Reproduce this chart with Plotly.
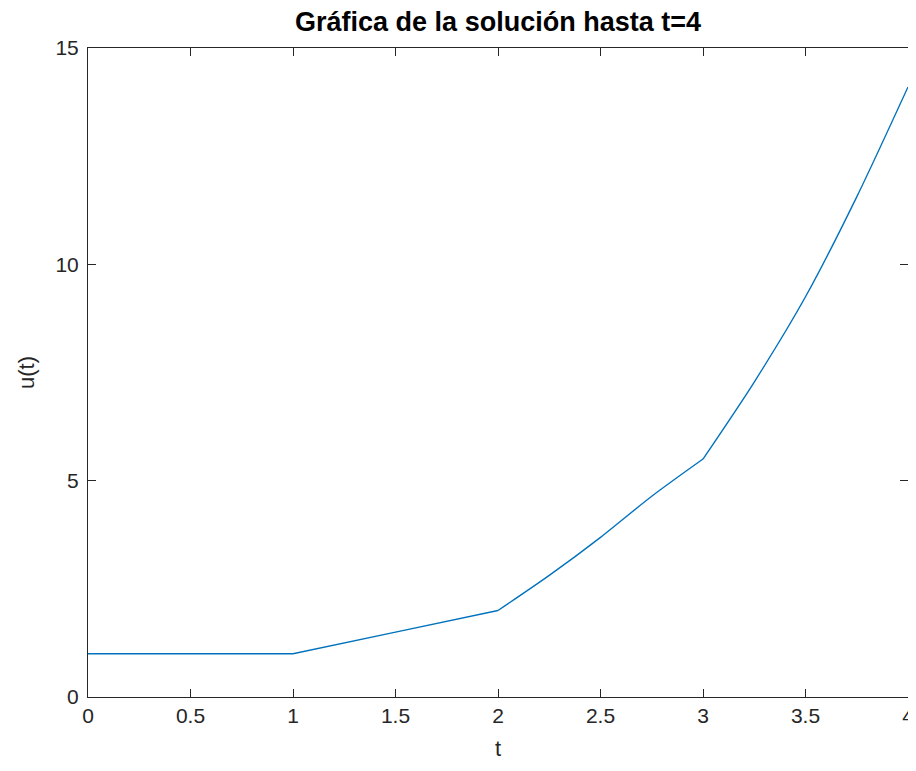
import plotly.graph_objects as go

# Values
t = [0, 0.5, 1.0, 1.5, 2.0, 2.25, 2.5, 2.75, 3.0, 3.25, 3.5, 3.75, 4.0]
u = [1.0, 1.0, 1.0, 1.5, 2.0, 2.81, 3.69, 4.64, 5.5, 7.28, 9.25, 11.56, 14.1]

x_ticks = [0, 0.5, 1, 1.5, 2, 2.5, 3, 3.5, 4]
x_tick_text = ["0", "0.5", "1", "1.5", "2", "2.5", "3", "3.5", "4"]
y_ticks = [0, 5, 10, 15]
y_tick_text = ["0", "5", "10", "15"]

AX = "#262626"
FONT = "Liberation Sans, Arial, sans-serif"
LINE = dict(color="#0072BD", width=1.4)

# page body adds an 8px margin; size the figure so the page does not scroll
W, H = 908, 755

fig = go.Figure()
# piecewise: straight on [0,2], smooth within [2,3] and [3,4] (kinks at 1, 2, 3)
segments = [(0, 5, "linear"), (4, 9, "spline"), (8, 13, "spline")]
for a, b, shape in segments:
    fig.add_trace(go.Scatter(x=t[a:b], y=u[a:b], mode="lines",
                             line=dict(**LINE, shape=shape, smoothing=0.8) if shape == "spline" else dict(**LINE),
                             showlegend=False, hoverinfo="x+y"))

fig.update_layout(
    width=W, height=H,
    margin=dict(l=80, r=8, t=40, b=66, autoexpand=False),
    paper_bgcolor="white", plot_bgcolor="white",
    font=dict(family=FONT, color=AX, size=21),
    title=dict(text="<b>Gráfica de la solución hasta t=4</b>",
               x=490/W, xanchor="center", xref="container",
               y=1-14/H, yanchor="middle", yref="container",
               font=dict(size=27, color="#000000", family=FONT)),
)
fig.update_xaxes(range=[0, 4], tickvals=x_ticks, ticktext=x_tick_text,
                 showline=True, linecolor=AX, linewidth=1, mirror="ticks",
                 ticks="inside", ticklen=8, tickcolor=AX, showgrid=False,
                 zeroline=False, tickfont=dict(size=21, color=AX), automargin=False,
                 ticklabeloverflow="allow",
                 title=dict(text="t", standoff=14, font=dict(size=22, color=AX)))
fig.update_yaxes(range=[0, 15], tickvals=y_ticks, ticktext=y_tick_text,
                 showline=True, linecolor=AX, linewidth=1, mirror="ticks",
                 ticks="inside", ticklen=8, tickcolor=AX, showgrid=False,
                 zeroline=False, tickfont=dict(size=21, color=AX), automargin=False,
                 ticklabelstandoff=4, ticklabeloverflow="allow",
                 title=dict(text="u(t)", standoff=14, font=dict(size=22, color=AX)))

fig.write_html("out.html")
